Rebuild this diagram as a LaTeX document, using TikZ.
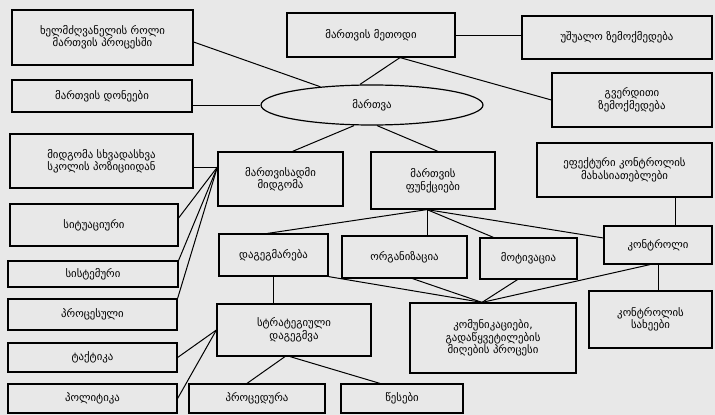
\documentclass[tikz,border=0pt]{standalone}
\usepackage{fontspec}
\setmainfont{DejaVu Sans}
\usetikzlibrary{shapes.geometric}

\begin{document}
\begin{tikzpicture}[x=1pt, y=-1pt, line width=1pt,
                box/.style={draw, line width=1.2pt, align=center, inner sep=1pt, font=\fontsize{10.8}{12.5}\selectfont}]
                \useasboundingbox (0,0) rectangle (715,415);
                \fill [black!9] (0,0) rectangle (715,415);
                % top row
                \node [box, minimum width=181pt, minimum height=55pt] (role) at (102.5,37.5) {ხელმძღვანელის როლი\\მართვის პროცესში};
                \node [box, minimum width=180pt, minimum height=32pt] (levels) at (102,96) {მართვის დონეები};
                \node [box, minimum width=168pt, minimum height=44pt] (method) at (371,35) {მართვის მეთოდი};
                \node [box, minimum width=190pt, minimum height=43pt] (direct) at (617,37.5) {უშუალო ზემოქმედება};
                \node [box, minimum width=160pt, minimum height=54pt] (side) at (632,100) {გვერდითი\\ზემოქმედება};
                \node [box, ellipse, minimum width=222pt, minimum height=40pt] (mgmt) at (372,105) {მართვა};
                % middle
                \node [box, minimum width=183pt, minimum height=54pt] (schools) at (101.5,161) {მიდგომა სხვადასხვა\\სკოლის პოზიციიდან};
                \node [box, minimum width=125pt, minimum height=54pt] (approach) at (280.5,179) {მართვისადმი\\მიდგომა};
                \node [box, minimum width=124pt, minimum height=57pt] (func) at (433,180.5) {მართვის\\ფუნქციები};
                \node [box, minimum width=175pt, minimum height=54pt] (effctrl) at (624.5,170) {ეფექტური კონტროლის\\მახასიათებლები};
                \node [box, minimum width=168pt, minimum height=42pt] (situ) at (94,225) {სიტუაციური};
                \node [box, minimum width=170pt, minimum height=26pt] (syst) at (93,274) {სისტემური};
                \node [box, minimum width=169pt, minimum height=31pt] (proc) at (92.5,314.5) {პროცესული};
                \node [box, minimum width=169pt, minimum height=29pt] (tact) at (92.5,357.5) {ტაქტიკა};
                \node [box, minimum width=169pt, minimum height=29pt] (policy) at (92.5,398.5) {პოლიტიკა};
                % functions
                \node [box, minimum width=109pt, minimum height=42pt] (plan) at (273.5,255) {დაგეგმარება};
                \node [box, minimum width=125pt, minimum height=42pt] (org) at (404.5,257) {ორგანიზაცია};
                \node [box, minimum width=97pt, minimum height=41pt] (motiv) at (528.5,258.5) {მოტივაცია};
                \node [box, minimum width=108pt, minimum height=38pt] (ctrl) at (658,245) {კონტროლი};
                % bottom
                \node [box, minimum width=154pt, minimum height=52pt] (strat) at (294,330) {სტრატეგიული\\დაგეგმვა};
                \node [box, minimum width=166pt, minimum height=70pt] (comm) at (493,338) {კომუნიკაციები,\\გადაწყვეტილების\\მიღების პროცესი};
                \node [box, minimum width=123pt, minimum height=57pt] (ctrltypes) at (650.5,319.5) {კონტროლის\\სახეები};
                \node [box, minimum width=136pt, minimum height=29pt] (procd) at (257,398.5) {პროცედურა};
                \node [box, minimum width=122pt, minimum height=29pt] (rules) at (402,398.5) {წესები};
                % connectors
                \coordinate (mb) at ([xshift=29pt]method.south);
                \coordinate (gw) at ([yshift=12pt]approach.west);
                \coordinate (hb) at ([xshift=-6pt]func.south);
                \coordinate (ct) at ([xshift=-11pt]comm.north);
                \draw ([yshift=-4.5pt]role.east) -- (mgmt);
                \draw (levels.east |- mgmt.west) -- (mgmt.west);
                \draw (mb) -- ([xshift=-12pt]mgmt.north);
                \draw (mb) -- (side.west);
                \draw (method.east) -- (method.east -| direct.west);
                \draw ([xshift=-18pt]mgmt.south) -- ([xshift=12pt]approach.north);
                \draw ([xshift=5pt]mgmt.south) -- ([xshift=5pt]func.north);
                \draw (schools.east |- gw) -- (gw);
                \draw (gw) -- ([yshift=7pt]situ.east);
                \draw (gw) -- (syst.north east);
                \draw (gw) -- (proc.north east);
                \draw (strat.west) -- (tact.east);
                \draw (strat.west) -- (policy.east);
                \draw (hb) -- ([xshift=-6pt]plan.north);
                \draw (hb) -- (hb |- org.north);
                \draw (hb) -- ([xshift=-35pt]motiv.north);
                \draw (hb) -- ([yshift=7pt]ctrl.west);
                \draw (plan.south) -- (plan.south |- strat.north);
                \draw (plan.south east) -- (ct);
                \draw ([xshift=8pt]org.south) -- (ct);
                \draw ([xshift=-11pt]motiv.south) -- (ct);
                \draw ([xshift=-8pt]ctrl.south) -- (ct);
                \draw (ctrl.south) -- (ctrl.south |- ctrltypes.north);
                \draw ([xshift=17pt]ctrl.north) -- ([xshift=17pt]ctrl.north |- effctrl.south);
                \draw ([xshift=-9pt]strat.south) -- ([xshift=-10pt]procd.north);
                \draw ([xshift=-4pt]strat.south) -- ([xshift=-22pt]rules.north);
            \end{tikzpicture}
\end{document}
